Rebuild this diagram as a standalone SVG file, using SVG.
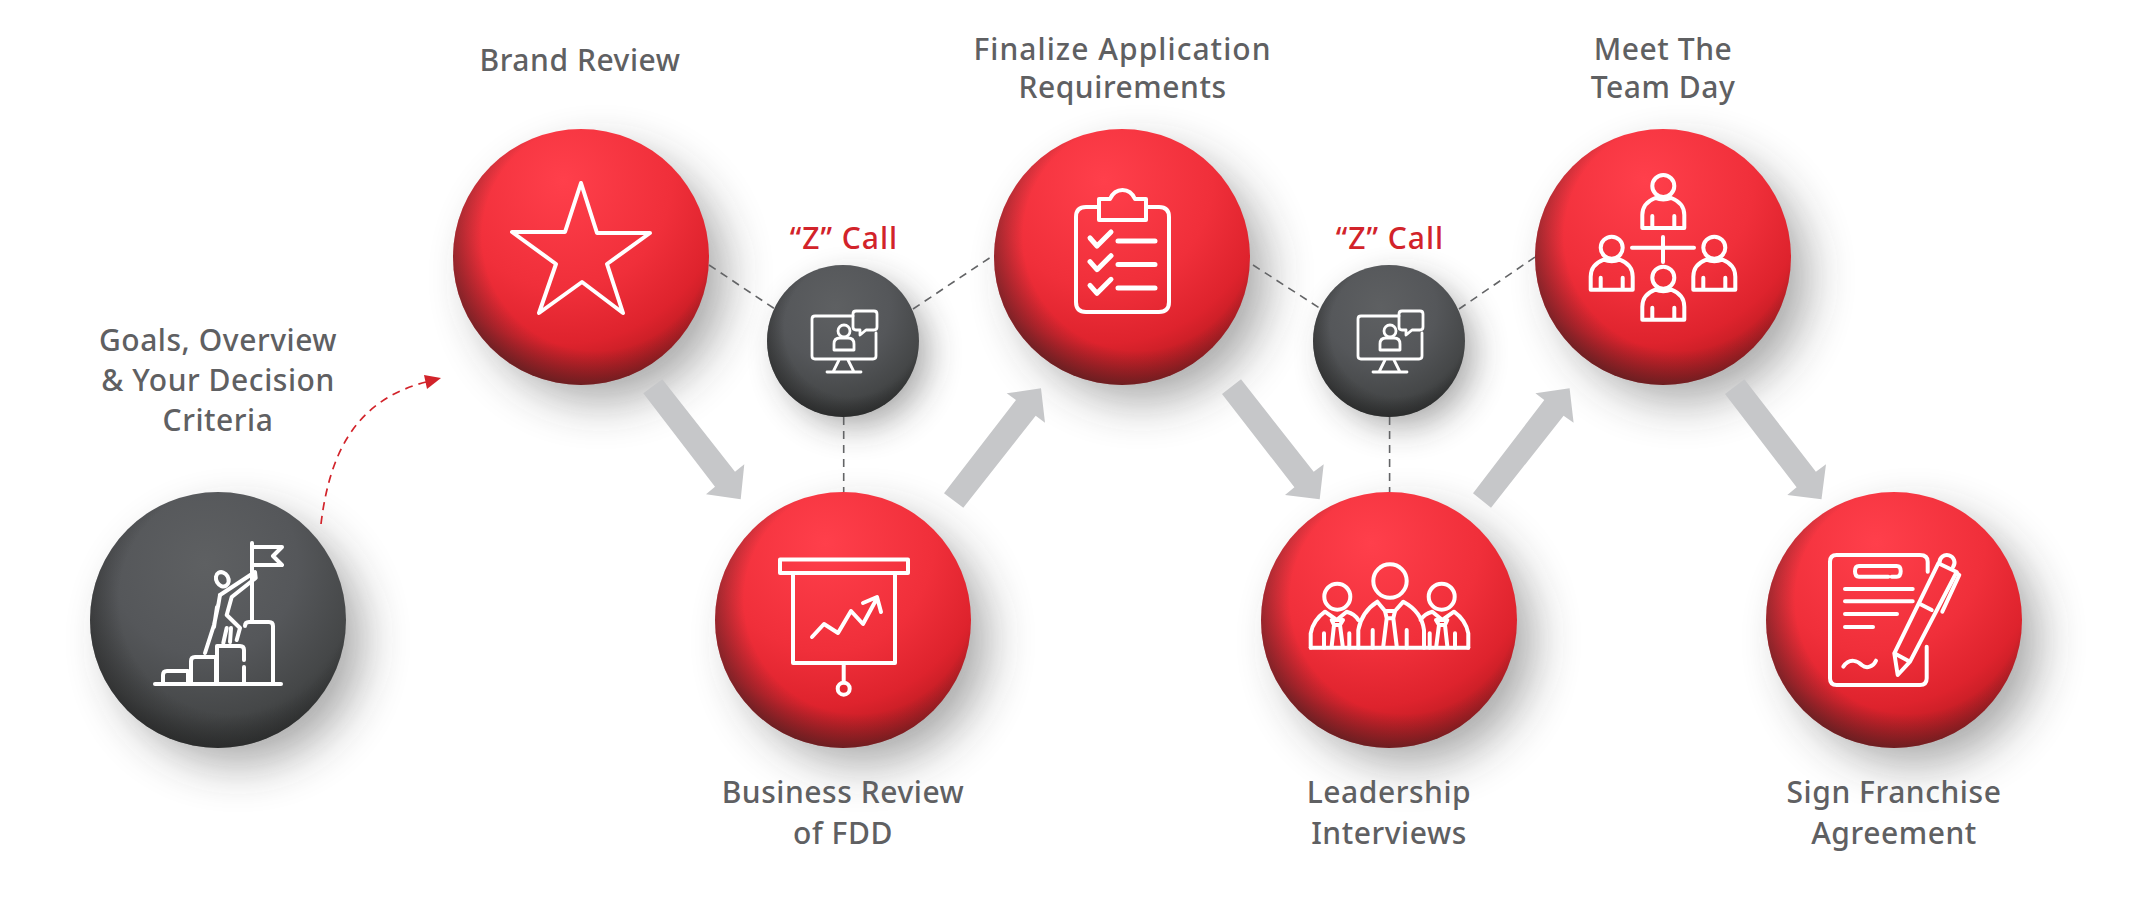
<svg xmlns="http://www.w3.org/2000/svg" xmlns:xlink="http://www.w3.org/1999/xlink" width="2135" height="899" viewBox="0 0 2135 899">
<style>
text{font-family:"Noto Sans","Liberation Sans",sans-serif;font-size:30px;font-weight:500;letter-spacing:.55px;fill:#5f6062;text-anchor:middle}
text.z{fill:#d2232a;letter-spacing:1px}
text.w{letter-spacing:1.05px}
.i{fill:none;stroke:#fff;stroke-width:4;stroke-linecap:round;stroke-linejoin:round}
.i3{stroke-width:2.8}
.dash{fill:none;stroke:#636466;stroke-width:1.6;stroke-dasharray:8 6}
.arrow{fill:#c6c7c9}
.shadow{fill:#2a2a2a;opacity:.42;filter:url(#blur)}
.shadow.s{filter:url(#blurS)}
.edge{fill:url(#edge)}
.red{fill:url(#red)}
.dark{fill:url(#dark)}
</style>
<defs>
<filter id="blur" x="-50%" y="-50%" width="200%" height="200%"><feGaussianBlur stdDeviation="24"/></filter>
<filter id="blurS" x="-50%" y="-50%" width="200%" height="200%"><feGaussianBlur stdDeviation="17"/></filter>
<radialGradient id="red" cx=".43" cy=".2" r=".85">
<stop offset="0" stop-color="#ff3f4b"/><stop offset=".5" stop-color="#f02f3a"/><stop offset=".75" stop-color="#de232d"/><stop offset=".92" stop-color="#b81b21"/><stop offset="1" stop-color="#a01a1e"/>
</radialGradient>
<radialGradient id="dark" cx=".45" cy=".28" r=".8">
<stop offset="0" stop-color="#5e6062"/><stop offset=".45" stop-color="#55575a"/><stop offset=".75" stop-color="#454748"/><stop offset=".92" stop-color="#313333"/><stop offset="1" stop-color="#3a3b3c"/>
</radialGradient>
<radialGradient id="edge" cx=".56" cy=".42" r=".62">
<stop offset=".72" stop-color="#222" stop-opacity="0"/><stop offset="1" stop-color="#222" stop-opacity=".6"/>
</radialGradient>
<g id="monitor" class="i i3">
<path d="M853 316H815Q812 316 812 319V356Q812 359 815 359H873Q876 359 876 356V333"/>
<path d="M856 311H874Q877 311 877 314V327Q877 330 874 330H866L860 335V330H856Q853 330 853 327V314Q853 311 856 311Z"/>
<circle cx="844" cy="331" r="6"/>
<path d="M834 350V344Q834 338 840 338H848Q854 338 854 344V350Z"/>
<path d="M839 360L833 372M848 360L854 372M827 372H861"/>
</g>
<g id="person" class="i">
<circle cx="0" cy="0" r="11"/>
<path d="M-21 42V29Q-21 17-8 12Q0 15 8 12Q21 17 21 29V42ZM-11 42V30M11 42V30"/>
</g>
<g id="leader" class="i">
<circle cx="1337.3" cy="596.7" r="13"/>
<path d="M1310.7 647.7V633.3Q1313.3 620 1325 611.7L1336.7 620L1346.7 611.7Q1355 614 1358.3 620"/>
<path d="M1331.7 620H1343L1340 625H1334ZM1334 625L1331.7 646M1340 625L1342.7 646M1324 633.3V647.7M1349.3 633.3V647.7"/>
</g>
</defs>

<g id="node-goals">
<circle class="shadow" cx="238" cy="640" r="124"/>
<circle class="dark" cx="218" cy="620" r="128"/><circle class="edge" cx="218" cy="620" r="128"/>
<g class="i">
<path d="M155 684H281"/>
<path d="M163 684V675Q163 671 167 671H188V684"/>
<path d="M191 684V661Q191 657 195 657H216V684"/>
<path d="M217 684V646H240Q244 646 244 650V660M244 667V684"/>
<path d="M245 626Q245 622 249 622H269Q273 622 273 626V684"/>
<path d="M252 622V543M252 547H282L273 556L282 565H252"/>
<ellipse cx="222.3" cy="579.3" rx="6" ry="7.5" transform="rotate(-30 222.3 579.3)"/>
<path d="M220 595L255 572L255.7 578L231.7 597L226.7 615L240 628L236.7 640"/>
<path d="M220 595L218.3 605L214 625L205 653M217 607L214 627M226.7 628L223.3 643M231 628L230 642"/>
</g>
<text x="218" y="351">Goals, Overview</text><text x="218" y="391">&amp; Your Decision</text><text x="218" y="431">Criteria</text>
</g>

<g id="node-brand">
<circle class="shadow" cx="601" cy="277" r="124"/>
<circle class="red" cx="581" cy="257" r="128"/><circle class="edge" cx="581" cy="257" r="128"/>
<path class="i" d="M581 183L597 233H650L607 264L623 313L582 282L539 313L556 264L512 232H565Z"/>
<text x="580" y="71">Brand Review</text>
</g>

<g id="node-zcall-1">
<circle class="shadow s" cx="855" cy="353" r="73"/>
<circle class="dark" cx="843" cy="341" r="76"/><circle class="edge" cx="843" cy="341" r="76"/>
<use xlink:href="#monitor" href="#monitor"/>
<text class="z" x="844" y="249">“Z” Call</text>
</g>

<g id="node-business">
<circle class="shadow" cx="863" cy="640" r="124"/>
<circle class="red" cx="843" cy="620" r="128"/><circle class="edge" cx="843" cy="620" r="128"/>
<g class="i">
<path d="M780 559.5H908V573H780ZM793 573V663H895V573M843.7 663V681"/>
<circle cx="843.7" cy="688.7" r="6"/>
<path d="M812 637L824 624L838 633L851 611L863 624L876 600M863 603L877 597L881 612"/>
</g>
<text x="843" y="803">Business Review</text><text x="843" y="844">of FDD</text>
</g>

<g id="node-finalize">
<circle class="shadow" cx="1142" cy="277" r="124"/>
<circle class="red" cx="1122" cy="257" r="128"/><circle class="edge" cx="1122" cy="257" r="128"/>
<g class="i">
<path d="M1099 207H1086Q1076 207 1076 217V302Q1076 312 1086 312H1159Q1169 312 1169 302V217Q1169 207 1159 207H1146"/>
<path d="M1099 220V199H1110Q1114 190 1122.5 190Q1131 190 1135 199H1146V220Z"/>
<g stroke-width="5">
<path d="M1090 238L1097 246L1111 232M1118 241H1155"/>
<path d="M1090 261.7L1097 269.7L1111 255.7M1118 264.5H1155"/>
<path d="M1090 285.3L1097 293.3L1111 279.3M1118 288H1155"/>
</g>
</g>
<text class="w" x="1122.5" y="60">Finalize Application</text><text x="1122.5" y="98">Requirements</text>
</g>

<g id="node-zcall-2">
<circle class="shadow s" cx="1401" cy="353" r="73"/>
<circle class="dark" cx="1389" cy="341" r="76"/><circle class="edge" cx="1389" cy="341" r="76"/>
<use xlink:href="#monitor" href="#monitor" transform="translate(546 0)"/>
<text class="z" x="1390" y="249">“Z” Call</text>
</g>

<g id="node-leadership">
<circle class="shadow" cx="1409" cy="640" r="124"/>
<circle class="red" cx="1389" cy="620" r="128"/><circle class="edge" cx="1389" cy="620" r="128"/>
<g class="i">
<circle cx="1390" cy="581" r="16.7"/>
<path d="M1310.7 647.7H1468.3"/>
<path d="M1358.3 647.7V630Q1361.7 611.7 1377.3 601.7L1385 611H1395L1403.3 601.7Q1421.7 611.7 1424 630V647.7"/>
<path d="M1385 611L1386.7 618.3L1383.3 646M1395 611L1393.3 618.3L1396.7 646M1386.7 618.3H1393.3M1372.7 630V647.7M1406.7 630V647.7"/>
</g>
<use xlink:href="#leader" href="#leader"/>
<use xlink:href="#leader" href="#leader" transform="translate(2779 0) scale(-1 1)"/>
<text x="1389" y="803">Leadership</text><text x="1389" y="844">Interviews</text>
</g>

<g id="node-team">
<circle class="shadow" cx="1683" cy="277" r="124"/>
<circle class="red" cx="1663" cy="257" r="128"/><circle class="edge" cx="1663" cy="257" r="128"/>
<use xlink:href="#person" href="#person" transform="translate(1663.3 186)"/>
<use xlink:href="#person" href="#person" transform="translate(1611.7 247.7)"/>
<use xlink:href="#person" href="#person" transform="translate(1714.3 247.7)"/>
<use xlink:href="#person" href="#person" transform="translate(1663.3 277.7)"/>
<path class="i" d="M1632 247.7H1694M1663 237V262"/>
<text x="1663" y="60">Meet The</text><text x="1663" y="98">Team Day</text>
</g>

<g id="node-sign">
<circle class="shadow" cx="1914" cy="640" r="124"/>
<circle class="red" cx="1894" cy="620" r="128"/><circle class="edge" cx="1894" cy="620" r="128"/>
<g class="i">
<path d="M1927.7 571.7V561.7Q1927.7 555 1920 555H1836.7Q1830 555 1830 561.7V678.3Q1830 685 1836.7 685H1920Q1926.7 685 1926.7 678.3V646.7"/>
<path d="M1888.3 576.7H1859Q1855 576.7 1855 571.3Q1855 566 1859 566H1896.7Q1900.7 566 1900.7 571.3Q1900.7 576.7 1896.7 576.7H1891.7"/>
<path d="M1845 589H1912.7M1845 601.3H1912.7M1845 614H1897M1845 627H1873"/>
<path d="M1843.3 666.7C1850 656.7 1858.3 661.7 1861.7 665C1866.7 669.3 1873.3 666.7 1876 660.7"/>
<path d="M1894.3 653.3L1897.7 675L1910 661.7ZM1894.3 653.3L1938.3 563.3L1956.7 572L1910 661.7M1920 604L1931.7 610"/>
<path d="M1939.5 563A7.5 7.5 0 1 1 1953 567"/>
<path d="M1956.7 573L1959.3 575L1942.3 611.7"/>
</g>
<text x="1894" y="803">Sign Franchise</text><text x="1894" y="844">Agreement</text>
</g>

<g id="connectors">
<path class="dash" d="M709 265L775 309"/>
<path class="dash" d="M913 309L994 255"/>
<path class="dash" d="M843.7 417V492"/>
<path class="dash" d="M1253 265L1321 309"/>
<path class="dash" d="M1459 309L1535 257"/>
<path class="dash" d="M1389.6 417V492"/>
<path d="M321 524C331 440 365 398 426 382" fill="none" stroke="#d2232a" stroke-width="1.7" stroke-dasharray="8 6"/>
<polygon points="441,378 424,375 427,389" fill="#d2232a"/>
<polygon class="arrow" points="643.3,393.3 662.3,379.3 735,471.7 744.3,464.3 740.7,499.3 706,494.3 715,486.7"/>
<polygon class="arrow" points="944,493.3 963.3,507.7 1035.7,415.7 1045,422.7 1041,388.3 1006.7,393.3 1016,400"/>
<polygon class="arrow" points="1222,394 1241,379.3 1313.7,471.7 1323.7,464.3 1319.7,499.3 1285,495 1294.4,487.3"/>
<polygon class="arrow" points="1473,493.3 1491,507.7 1563.6,415.7 1573.6,422.7 1569.6,388.3 1535.4,393.3 1544.3,400"/>
<polygon class="arrow" points="1725,394 1744.4,379.3 1815.9,471.7 1826,464.3 1821.5,499.3 1787.3,495 1796.6,487.3"/>
</g>
</svg>
